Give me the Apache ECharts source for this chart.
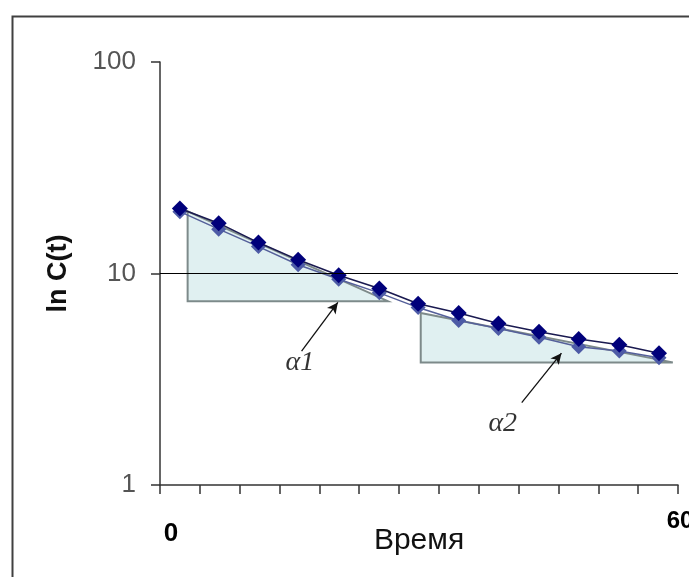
<!DOCTYPE html>
<html><head><meta charset="utf-8">
<script src="https://cdn.jsdelivr.net/npm/echarts@6/dist/echarts.min.js"></script>
<style>html,body{margin:0;background:#fff}#c{width:689px;height:577px}</style>
</head><body><div id="c"></div>
<script>
// time positions and concentration values
const xTimes = [2.3, 6.8, 11.4, 16.0, 20.7, 25.4, 29.9, 34.6, 39.2, 43.9, 48.5, 53.2, 57.8];
const cDark  = [20.3, 17.3, 14.0, 11.6, 9.8, 8.5, 7.2, 6.5, 5.8, 5.3, 4.9, 4.6, 4.2];
const cLight = [19.6, 16.2, 13.4, 11.0, 9.4, 8.1, 6.9, 6.0, 5.5, 5.0, 4.5, 4.3, 4.0];
// triangles (x, C) vertices
const tri1 = [[3.2, 19.7], [3.2, 7.4], [26.4, 7.4]];
const tri2 = [[30.2, 6.5], [30.2, 3.8], [59.4, 3.8]];
// arrows [from, to]
const arrow1 = [[16.4, 4.3], [20.6, 7.3]];
const arrow2 = [[41.9, 2.45], [46.5, 4.2]];
// annotation labels
const alphaLabels = [{name: 'α1', value: [16.2, 3.8]}, {name: 'α2', value: [39.7, 1.95]}];
const yTicks = [1, 10, 100];
const xTickLabels = ['0', '60'];

const triangles = [tri1, tri2];
const chart = echarts.init(document.getElementById('c'));
chart.setOption({
  backgroundColor: '#fff',
  animation: false,
  graphic: [{
    type: 'rect', left: 10, top: 14, z: 100,
    shape: {x: 0, y: 0, width: 720, height: 620},
    style: {fill: 'none', stroke: '#404040', lineWidth: 2}
  }],
  grid: {left: 160, right: 11, top: 62, bottom: 92, outerBoundsMode: 'none', containLabel: false},
  xAxis: {
    type: 'value', min: 0, max: 60, interval: 60 / 13,
    axisLine: {lineStyle: {color: '#333', width: 1.5}},
    axisTick: {show: true, length: 9, lineStyle: {color: '#333', width: 1.5}},
    splitLine: {show: false},
    axisLabel: {
      margin: 22,
      showMinLabel: true, showMaxLabel: true,
      formatter: function (v) {
        if (Math.abs(v) < 1e-6) return '{z|' + xTickLabels[0] + '}';
        if (Math.abs(v - 60) < 1e-6) return '{s|' + xTickLabels[1] + '}';
        return '';
      },
      rich: {
        z: {fontFamily: 'Liberation Sans', fontWeight: 'bold', fontSize: 26, color: '#000', padding: [14, 0, 0, 22]},
        s: {fontFamily: 'Liberation Sans', fontWeight: 'bold', fontSize: 24, color: '#000', padding: [2, 0, 0, 4]}
      }
    },
    name: 'Время', nameLocation: 'middle', nameGap: 41, nameMoveOverlap: false,
    nameTextStyle: {fontFamily: 'Liberation Sans', fontSize: 30, color: '#111'}
  },
  yAxis: {
    type: 'log', logBase: 10, min: 1, max: 100,
    axisLine: {show: true, lineStyle: {color: '#333', width: 1.5}},
    axisTick: {show: true, length: 9, lineStyle: {color: '#333', width: 1.5}},
    minorTick: {show: false},
    splitLine: {show: false},
    axisLabel: {
      margin: 24, fontFamily: 'Liberation Sans', fontSize: 26, color: '#555',
      formatter: function (v) { return yTicks.indexOf(Math.round(v)) >= 0 ? String(Math.round(v)) : ''; }
    },
    name: 'ln C(t)', nameLocation: 'middle', nameGap: 88, nameMoveOverlap: false,
    nameTextStyle: {fontFamily: 'Liberation Sans', fontWeight: 'bold', fontSize: 27, color: '#111'}
  },
  series: [
    {
      type: 'custom', z: 1, silent: true,
      data: triangles.map(function (t, i) { return i; }),
      renderItem: function (params, api) {
        const t = triangles[api.value(0)];
        return {
          type: 'polygon',
          shape: {points: t.map(function (p) { return api.coord(p); })},
          style: {fill: '#e0f0f1', stroke: '#7d8a8a', lineWidth: 2}
        };
      },
      encode: {x: -1, y: -1}
    },
    {
      type: 'line', z: 3, silent: true,
      data: xTimes.map(function (x, i) { return [x, cLight[i]]; }),
      symbol: 'diamond', symbolSize: 15,
      itemStyle: {color: '#4d5ba6'},
      lineStyle: {color: '#55609a', width: 1.5}
    },
    {
      type: 'line', z: 4, silent: true,
      data: xTimes.map(function (x, i) { return [x, cDark[i]]; }),
      symbol: 'diamond', symbolSize: 16,
      itemStyle: {color: '#00007a'},
      lineStyle: {color: '#1a1a50', width: 1.6},
      markLine: {
        silent: true, symbol: 'none', animation: false,
        label: {show: false},
        lineStyle: {color: '#000', width: 1.2, type: 'solid'},
        data: [{yAxis: 10}]
      }
    },
    {
      type: 'line', z: 5, silent: true, data: [],
      markLine: {
        silent: true, symbol: ['none', 'arrow'], symbolSize: [8, 11],
        label: {show: false},
        lineStyle: {color: '#111', width: 1.3, type: 'solid'},
        data: [
          [{coord: arrow1[0]}, {coord: arrow1[1]}],
          [{coord: arrow2[0]}, {coord: arrow2[1]}]
        ]
      }
    },
    {
      type: 'scatter', z: 6, silent: true, symbolSize: 0,
      data: alphaLabels,
      label: {
        show: true, position: 'inside', formatter: '{b}',
        fontFamily: 'Liberation Serif', fontStyle: 'italic', fontSize: 28, color: '#000'
      }
    }
  ]
});
</script></body></html>
